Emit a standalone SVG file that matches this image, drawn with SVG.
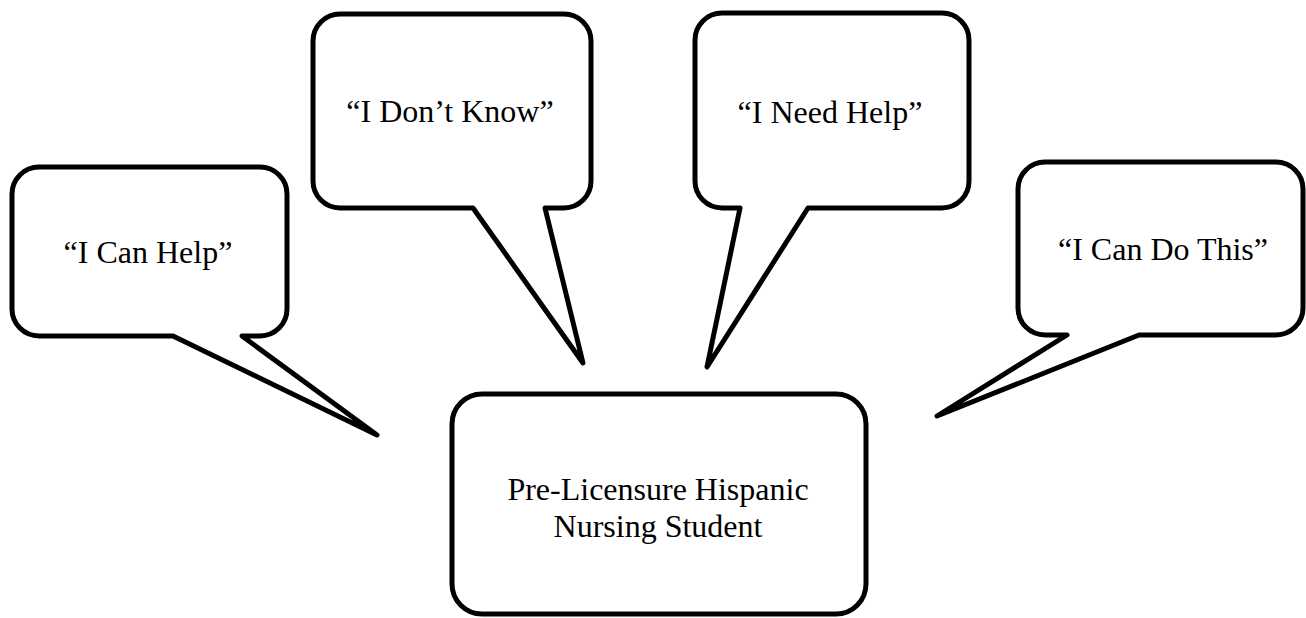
<svg xmlns="http://www.w3.org/2000/svg" width="1306" height="618" viewBox="0 0 1306 618">
<style>
.shape{fill:#fff;stroke:#000;stroke-width:5;stroke-linejoin:round}
.t{font-family:"Liberation Serif","Times New Roman",serif;font-size:32px;fill:#000;text-anchor:middle}
</style>
<rect width="1306" height="618" fill="#fff"/>
<g id="bubble-can-help">
<path class="shape" d="M39,167 H260 A27,27 0 0 1 287,194 V309 A27,27 0 0 1 260,336 H242 L377,435 L173,336 H39 A27,27 0 0 1 12,309 V194 A27,27 0 0 1 39,167 Z"/>
<text class="t" x="148" y="263">“I Can Help”</text>
</g>
<g id="bubble-dont-know">
<path class="shape" d="M340,14 H564 A27,27 0 0 1 591,41 V181 A27,27 0 0 1 564,208 H545 L583,363 L473,208 H340 A27,27 0 0 1 313,181 V41 A27,27 0 0 1 340,14 Z"/>
<text class="t" x="450" y="122">“I Don’t Know”</text>
</g>
<g id="bubble-need-help">
<path class="shape" d="M722,13 H942 A27,27 0 0 1 969,40 V181 A27,27 0 0 1 942,208 H808 L707,367 L740,208 H722 A27,27 0 0 1 695,181 V40 A27,27 0 0 1 722,13 Z"/>
<text class="t" x="830" y="123">“I Need Help”</text>
</g>
<g id="bubble-can-do-this">
<path class="shape" d="M1045,162 H1276 A27,27 0 0 1 1303,189 V308 A27,27 0 0 1 1276,335 H1139 L937,416 L1067,335 H1045 A27,27 0 0 1 1018,308 V189 A27,27 0 0 1 1045,162 Z"/>
<text class="t" x="1163" y="260">“I Can Do This”</text>
</g>
<g id="student">
<rect class="shape" x="452" y="394" width="414" height="220" rx="30" ry="30"/>
<text class="t" x="658" y="500">Pre-Licensure Hispanic</text>
<text class="t" x="658" y="537">Nursing Student</text>
</g>
</svg>
